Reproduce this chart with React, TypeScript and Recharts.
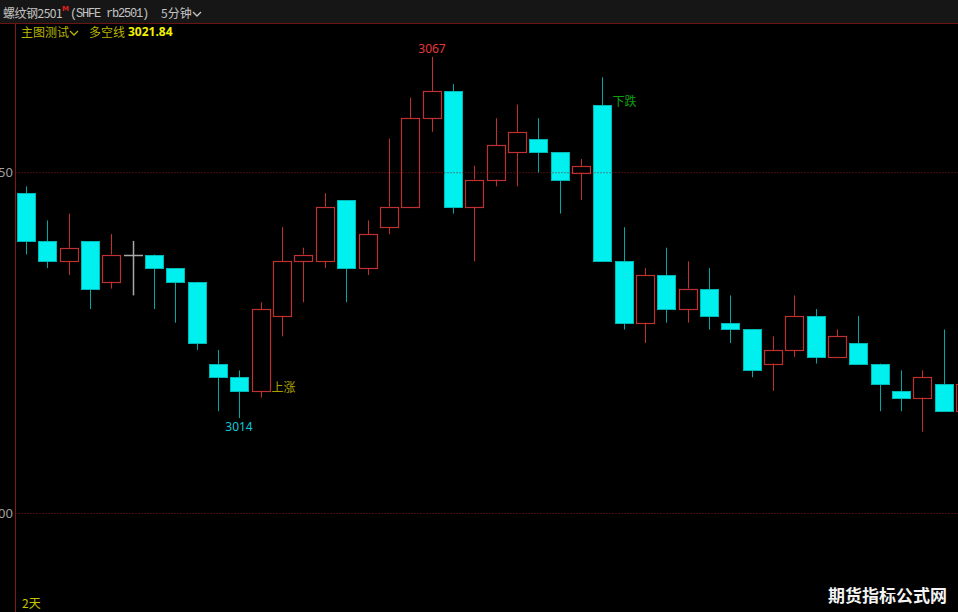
import React from 'react';
import { ComposedChart, Bar, XAxis, YAxis, ReferenceLine } from 'recharts';

const opens = [3047,3040,3037,3040,3034,3038,3038,3036,3034,3022,3020,3018,3029,3037,3037,3046,3036,3042,3045,3058,3062,3045,3049,3053,3055,3053,3050,3060,3037,3028,3035,3030,3033,3028,3027,3022,3024,3029,3023,3025,3022,3018,3017,3019,3015];
const highs = [3048,3043,3044,3040,3041,3040,3038,3036,3034,3024,3021,3031,3042,3039,3047,3046,3043,3055,3061,3067,3063,3051,3058,3060,3058,3053,3052,3064,3042,3036,3039,3037,3036,3032,3027,3026,3032,3030,3027,3029,3022,3021,3021,3027,3020];
const lows = [3038,3036,3035,3030,3033,3032,3030,3028,3024,3015,3014,3017,3026,3031,3036,3031,3035,3041,3045,3056,3044,3037,3048,3048,3050,3044,3046,3037,3027,3025,3028,3028,3027,3025,3020,3018,3023,3022,3023,3022,3015,3015,3012,3015,3014];
const closes = [3040,3037,3039,3033,3038,3038,3036,3034,3025,3020,3018,3030,3037,3038,3045,3036,3041,3045,3058,3062,3045,3049,3054,3056,3053,3049,3051,3037,3028,3035,3030,3033,3029,3027,3021,3024,3029,3023,3026,3022,3019,3017,3020,3015,3019];

const yTicks = [3000, 3050];
const highMarks = [19];
const lowMarks = [10];
const signalIdx = [11, 27];
const signalText = ['上涨', '下跌'];
const lineValue = '3021.84';

const data = opens.map((o, i) => ({ i, o, h: highs[i], l: lows[i], c: closes[i] }));

const RED = '#c03030';
const CYAN = '#00f0f0';
const CYAN_EDGE = '#00b8b8';
const CYAN_WICK = '#00a8a8';
const GRAY = '#a8a8a8';

const Candle = (props: any) => {
  const { x, y, width, height, payload } = props;
  if (payload == null || height == null) return null;
  const { o, h, l, c, i } = payload;
  const ratio = height / (h - l);
  const py = (v: number) => y + (h - v) * ratio;
  const cx = Math.round(x + width / 2);
  const wx = cx + 0.5;
  const top = py(Math.max(o, c));
  const bot = py(Math.min(o, c));
  const up = c > o;
  const doji = c === o;
  const parts: any[] = [];
  if (doji) {
    parts.push(<line key="w" x1={wx} x2={wx} y1={py(h)} y2={py(l)} stroke={GRAY} strokeWidth={1.5} />);
    parts.push(<line key="b" x1={cx - 9} x2={cx + 10} y1={Math.round(top) + 0.5} y2={Math.round(top) + 0.5} stroke={GRAY} strokeWidth={1.5} />);
  } else if (up) {
    parts.push(<line key="w1" x1={wx} x2={wx} y1={py(h)} y2={top} stroke={RED} />);
    parts.push(<line key="w2" x1={wx} x2={wx} y1={bot} y2={py(l)} stroke={RED} />);
    parts.push(<rect key="b" x={cx - 9 + 0.5} y={Math.round(top) + 0.5} width={18} height={Math.max(1, Math.round(bot) - Math.round(top))} fill="none" stroke={RED} strokeWidth={1.2} />);
  } else {
    parts.push(<line key="w" x1={wx} x2={wx} y1={py(h)} y2={py(l)} stroke={CYAN_WICK} />);
    parts.push(<rect key="b" x={cx - 9 + 0.5} y={Math.round(top) + 0.5} width={18} height={Math.max(1, Math.round(bot) - Math.round(top))} fill={CYAN} stroke={CYAN_EDGE} strokeWidth={1} />);
  }
  if (highMarks.includes(i)) {
    parts.push(<text key="hm" x={cx} y={py(h) - 4} textAnchor="middle" fill="#e83838" fontSize={12} fontFamily="'Noto Sans', sans-serif">{h}</text>);
  }
  if (lowMarks.includes(i)) {
    parts.push(<text key="lm" x={cx} y={py(l) + 13} textAnchor="middle" fill="#10c8d8" fontSize={12} fontFamily="'Noto Sans', sans-serif">{l}</text>);
  }
  const si = signalIdx.indexOf(i);
  if (si >= 0) {
    parts.push(<text key="sg" x={cx + 10.5} y={py(o) + 1} fill={si === 0 ? '#a8a000' : '#10a010'} fontSize={12} fontFamily="'Noto Sans CJK SC', sans-serif">{signalText[si]}</text>);
  }
  return <g>{parts}</g>;
};

const YTick = (props: any) => {
  const { y, payload } = props;
  return (
    <text x={13} y={y + 4.5} textAnchor="end" fill="#a0a0a0" fontSize={13} fontFamily="'Noto Sans', sans-serif">{payload.value}</text>
  );
};

const Chevron = ({ left, top, color }: { left: number; top: number; color: string }) => (
  <svg width={10} height={8} style={{ position: 'absolute', left, top }}>
    <polyline points="1,2 5,6 9,2" fill="none" stroke={color} strokeWidth={1.3} />
  </svg>
);

const cjk = "'Noto Sans CJK SC', sans-serif";

export default function App() {
  return (
    <div style={{ position: 'absolute', left: 0, top: 0, width: 958, height: 612, overflow: 'hidden', background: '#000' }}>
      <div style={{ position: 'absolute', left: 0, top: 0, width: 958, height: 23, background: '#161616', borderBottom: '1px solid #6a1414' }} />
      <ComposedChart
        width={976}
        height={612}
        data={data}
        margin={{ top: 24, right: 0, bottom: 0, left: 0 }}
        barCategoryGap={0}
        style={{ position: 'absolute', left: 0, top: 0 }}
      >
        <XAxis dataKey="i" hide />
        <YAxis
          domain={[2985.55, 3071.82]}
          allowDataOverflow
          ticks={yTicks}
          width={15.5}
          tickLine={false}
          axisLine={{ stroke: '#801818' }}
          tick={<YTick />}
        />
        <ReferenceLine y={3050} stroke="#901c1c" strokeDasharray="1 2" />
        <ReferenceLine y={3000} stroke="#901c1c" strokeDasharray="1 2" />
        <Bar dataKey={(d: any) => [d.l, d.h]} barSize={19} shape={<Candle />} isAnimationActive={false} />
      </ComposedChart>
      <div style={{ position: 'absolute', left: 3, top: 5, fontSize: 12, lineHeight: '16px', letterSpacing: '-0.5px', color: '#c4c4c4', fontFamily: cjk, whiteSpace: 'nowrap' }}>螺纹钢2501</div>
      <div style={{ position: 'absolute', left: 62, top: 5, fontSize: 7, lineHeight: '8px', color: '#e02020', fontFamily: "'DejaVu Sans', sans-serif", fontWeight: 'bold' }}>M</div>
      <div style={{ position: 'absolute', left: 70, top: 6, fontSize: 12, lineHeight: '16px', letterSpacing: '-1.2px', color: '#c4c4c4', fontFamily: "'Liberation Mono', monospace", whiteSpace: 'nowrap' }}>(SHFE rb2501)</div>
      <div style={{ position: 'absolute', left: 161, top: 5, fontSize: 12, lineHeight: '16px', color: '#c4c4c4', fontFamily: cjk, whiteSpace: 'nowrap' }}>5分钟</div>
      <Chevron left={192} top={10} color="#c4c4c4" />
      <div style={{ position: 'absolute', left: 21, top: 24, fontSize: 12, lineHeight: '16px', color: '#b8b400', fontFamily: cjk, whiteSpace: 'nowrap' }}>主图测试</div>
      <Chevron left={69} top={29} color="#b8b400" />
      <div style={{ position: 'absolute', left: 89, top: 24, fontSize: 12, lineHeight: '16px', color: '#b8b400', fontFamily: cjk, whiteSpace: 'nowrap' }}>多空线</div>
      <div style={{ position: 'absolute', left: 128, top: 24, fontSize: 12, lineHeight: '16px', color: '#f0f000', fontFamily: "'Noto Sans', sans-serif", fontWeight: 'bold', whiteSpace: 'nowrap' }}>{lineValue}</div>
      <div style={{ position: 'absolute', left: 22, top: 595, fontSize: 12, lineHeight: '16px', color: '#c8c400', fontFamily: cjk, whiteSpace: 'nowrap' }}>2天</div>
      <div style={{ position: 'absolute', left: 828, top: 584, fontSize: 17, lineHeight: '22px', color: '#f4f4f4', fontFamily: cjk, fontWeight: 'bold', whiteSpace: 'nowrap' }}>期货指标公式网</div>
    </div>
  );
}
